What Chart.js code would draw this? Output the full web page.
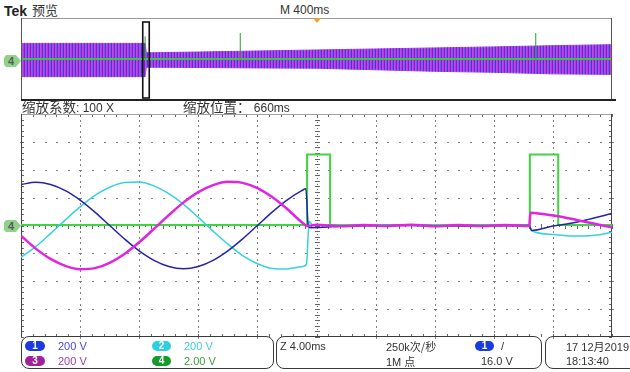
<!DOCTYPE html>
<html><head><meta charset="utf-8">
<script src="https://cdn.jsdelivr.net/npm/chart.js@4.4.1/dist/chart.umd.min.js"></script>
<style>
html,body{margin:0;padding:0;background:#fff;}
body{width:630px;height:372px;position:relative;overflow:hidden;font-family:"Liberation Sans Narrow","Liberation Sans",Arial,sans-serif;color:#333;}
.t{position:absolute;white-space:nowrap;font-size:11px;line-height:12px;}
.cjk{font-family:"Noto Sans CJK SC",sans-serif;}
.pill{position:absolute;height:10px;border-radius:5px;color:#fff;font:bold 10px/10px "Liberation Sans",Arial,sans-serif;text-align:center;}
.box{position:absolute;border:1.5px solid #3a3a3a;border-radius:8px;box-sizing:border-box;}
.marker{position:absolute;width:17px;height:12px;background:#8ed389;clip-path:polygon(0 20%,12% 0,70% 0,100% 50%,70% 100%,12% 100%,0 80%);color:#5a5a5a;font:bold 11px/12px "Liberation Sans",Arial,sans-serif;text-indent:4px;}
.trig{position:absolute;left:313px;top:18px;width:0;height:0;border-left:4px solid transparent;border-right:4px solid transparent;border-top:5px solid #f0a030;}
canvas{position:absolute;}
</style></head><body>

<div class="t" style="left:4px;top:3px;font:bold 14px/16px 'Liberation Sans',Arial,sans-serif;color:#222">Tek</div>
<div class="t cjk" style="left:32px;top:2px;font-size:13px;line-height:16px;color:#333">预览</div>
<div class="t" style="left:280px;top:3px;font-size:12px;line-height:14px;color:#333">M 400ms</div>

<canvas id="ov" width="598" height="88" style="left:18px;top:15px;width:598px;height:88px"></canvas>
<div class="trig"></div>
<div class="marker" style="left:4px;top:55px">4</div>

<div class="t" style="left:22px;top:98px;font-size:12px;line-height:16px"><span class="cjk" style="font-size:13.5px">缩放系数</span>: 100 X</div>
<div class="t" style="left:183px;top:98px;font-size:12px;line-height:16px"><span class="cjk" style="font-size:13.5px">缩放位置：</span> 660ms</div>

<canvas id="main" width="598" height="229" style="left:18px;top:111px;width:598px;height:229px"></canvas>
<div class="marker" style="left:4px;top:220px">4</div>

<div class="box" style="left:21px;top:336px;width:253px;height:33px"></div>
<div class="box" style="left:276px;top:336px;width:266px;height:33px"></div>
<div class="box" style="left:545px;top:336px;width:100px;height:33px"></div>

<div class="pill" style="left:25px;top:341px;width:20px;background:#1a3be0">1</div>
<div class="t" style="left:58px;top:340px;color:#4a4ac8">200 V</div>
<div class="pill" style="left:25px;top:356px;width:20px;background:#a0209e">3</div>
<div class="t" style="left:58px;top:355px;color:#a040a0">200 V</div>
<div class="pill" style="left:152px;top:341px;width:19px;background:#2cd0e4">2</div>
<div class="t" style="left:184px;top:340px;color:#40ccd8">200 V</div>
<div class="pill" style="left:152px;top:356px;width:19px;background:#139c2c">4</div>
<div class="t" style="left:184px;top:355px;color:#3a9c3a">2.00 V</div>

<div class="t" style="left:280px;top:340px">Z 4.00ms</div>
<div class="t" style="left:386px;top:340px">250k<span class="cjk">次/秒</span></div>
<div class="t" style="left:386px;top:355px">1M <span class="cjk">点</span></div>
<div class="pill" style="left:475px;top:341px;width:19px;background:#1a3be0">1</div>
<div class="t" style="left:501px;top:340px">/</div>
<div class="t" style="left:481px;top:355px">16.0 V</div>

<div class="t" style="left:566px;top:340px">17 12<span class="cjk">月</span>2019</div>
<div class="t" style="left:566px;top:355px">18:13:40</div>

<script>
// ---------- data (horizontal: divisions of 4 ms, vertical: divisions) ----------
const ch1Time = [0,0.25,0.5,0.75,1,1.25,1.5,1.75,2,2.25,2.5,2.75,3,3.25,3.5,3.75,4,4.25,4.5,4.75,4.82,4.86,4.9,5.5,6.5,7.5,8.6,8.64,9.0,9.3,9.6,10];
const ch1Div  = [1.47,1.55,1.47,1.25,0.91,0.48,0,-0.48,-0.91,-1.25,-1.47,-1.55,-1.47,-1.25,-0.91,-0.48,0,0.48,0.91,1.25,1.32,0.0,-0.08,-0.02,0.0,-0.02,0.0,-0.18,-0.02,0.08,0.22,0.43];

const ch2Time = [0,0.25,0.5,0.75,1,1.25,1.5,1.75,2,2.25,2.5,2.75,3,3.25,3.5,3.75,4,4.25,4.5,4.75,4.83,4.86,4.88,4.93,5.5,6.5,7.5,8.6,8.64,9.0,9.4,9.8,10];
const ch2Div  = [-1.14,-0.76,-0.29,0.20,0.67,1.08,1.37,1.54,1.56,1.42,1.14,0.76,0.29,-0.20,-0.67,-1.08,-1.37,-1.54,-1.56,-1.48,-1.40,-0.30,0.15,0.02,0,0.01,0,0,-0.18,-0.32,-0.38,-0.33,-0.24];

const ch3Time = [0,0.25,0.5,0.75,1,1.25,1.5,1.75,2,2.25,2.5,2.75,3,3.25,3.5,3.75,4,4.25,4.5,4.75,4.85,5.0,5.4,5.8,6.2,6.6,7.0,7.4,7.8,8.2,8.6,8.62,8.8,9.0,9.2,9.4,9.6,9.8,10];
const ch3Div  = [-0.37,-0.83,-1.20,-1.45,-1.57,-1.53,-1.34,-1.02,-0.60,-0.12,0.37,0.83,1.20,1.45,1.57,1.53,1.34,1.02,0.60,0.12,-0.02,0.03,-0.03,0.02,-0.02,0.03,-0.03,0.02,-0.02,0.02,-0.02,0.46,0.42,0.36,0.29,0.20,0.11,0.02,-0.06];

const ch4Time = [0,4.84,4.84,5.23,5.23,8.61,8.61,9.09,9.09,10];
const ch4Div  = [0.02,0.02,2.55,2.55,0.02,0.02,2.55,2.55,0.02,0.02];

// overview record (400 ms/div)
const ovTime  = [0,2.1,2.12,3,4,5,6,7,8,9,10];
const ovUpper = [1.52,1.52,0.6,0.68,0.78,0.88,0.98,1.08,1.18,1.3,1.4];
const ovLower = [-1.72,-1.72,-0.8,-0.83,-0.87,-0.9,-1.05,-1.2,-1.3,-1.45,-1.5];
const ovGroundTime = [0,10];
const ovGround = [0,0];
const ovSpikeTime = [2.1,3.71,8.71];
const ovSpikeTop  = [2.2,2.54,2.54];
const zoomWindow = [2.06,2.17];

const xDivs = 10, yDivs = 8;

const pts = (t, v) => t.map((x, i) => ({x, y: v[i]}));

// ---------- overview ----------
const ovCanvas = document.getElementById('ov');
const pc = document.createElement('canvas'); pc.width = 3; pc.height = 1;
const pctx = pc.getContext('2d');
['#4a36d6','#da3ce4','#9448e6'].forEach((c,i)=>{pctx.fillStyle=c;pctx.fillRect(i,0,1,1);});
const bandPattern = ovCanvas.getContext('2d').createPattern(pc,'repeat');

const ovFrame = {
  id:'ovFrame',
  afterDatasetsDraw(chart){
    const {ctx, chartArea:a, scales:{x,y}} = chart;
    ctx.save();
    ctx.strokeStyle = '#999'; ctx.lineWidth = 1;
    ctx.beginPath(); ctx.moveTo(a.left, a.top+0.5); ctx.lineTo(a.right, a.top+0.5); ctx.stroke();
    ctx.strokeStyle = '#555';
    ctx.beginPath(); ctx.moveTo(a.left+0.5, a.top); ctx.lineTo(a.left+0.5, a.bottom);
    ctx.moveTo(a.right-0.5, a.top); ctx.lineTo(a.right-0.5, a.bottom); ctx.stroke();
    ctx.strokeStyle = '#222'; ctx.lineWidth = 2;
    ctx.beginPath(); ctx.moveTo(a.left, a.bottom); ctx.lineTo(a.right+4, a.bottom); ctx.stroke();
    const x0 = x.getPixelForValue(zoomWindow[0]), x1 = x.getPixelForValue(zoomWindow[1]);
    ctx.strokeStyle = '#111'; ctx.lineWidth = 1.6;
    ctx.strokeRect(x0, a.top+4, x1-x0, a.bottom-a.top-6);
    ctx.restore();
  }
};

new Chart(ovCanvas, {
  type:'line',
  data:{datasets:[
    {data:pts(ovTime,ovUpper), borderColor:bandPattern, backgroundColor:bandPattern, borderWidth:1, fill:'+1', order:3},
    {data:pts(ovTime,ovLower), borderColor:bandPattern, borderWidth:1, fill:false, order:3},
    {data:pts(ovGroundTime,ovGround), borderColor:'#3cc24a', borderWidth:2, fill:false, order:2},
    {data:ovSpikeTime.flatMap((t,i)=>[{x:t,y:0},{x:t,y:ovSpikeTop[i]},{x:t,y:null}]), borderColor:'#2f9a33', borderWidth:1, fill:false, spanGaps:false, order:1}
  ]},
  options:{
    responsive:false, animation:false, devicePixelRatio:1,
    layout:{padding:{left:3,right:4,top:3,bottom:3}},
    plugins:{legend:{display:false}, tooltip:{enabled:false}},
    elements:{point:{radius:0}, line:{tension:0}},
    scales:{x:{type:'linear',min:0,max:xDivs,display:false}, y:{min:-yDivs/2,max:yDivs/2,display:false}}
  },
  plugins:[ovFrame]
});

// ---------- main zoomed view ----------
const scopeGrid = {
  id:'scopeGrid',
  beforeDatasetsDraw(chart){
    const {ctx, chartArea:a, scales:{x,y}} = chart;
    ctx.save();
    ctx.fillStyle = '#808080';
    for (let i = 1; i < xDivs; i++) {
      if (i === xDivs/2) continue;
      const px = Math.round(x.getPixelForValue(i));
      for (let j = 0; j <= yDivs*5; j++) {
        const py = Math.round(y.getPixelForValue(-yDivs/2 + j*0.2));
        ctx.fillRect(px, py, 1, 2);
      }
    }
    for (let i = -yDivs/2+1; i < yDivs/2; i++) {
      if (i === 0) continue;
      const py = Math.round(y.getPixelForValue(i));
      for (let j = 0; j <= xDivs*5; j++) {
        const px = Math.round(x.getPixelForValue(j*0.2));
        ctx.fillRect(px, py, 2, 1);
        if (j % 5 === 0) ctx.fillRect(px-1, py, 3, 1);
      }
    }
    ctx.fillStyle = '#666';
    const cx = Math.round(x.getPixelForValue(xDivs/2)), cy = Math.round(y.getPixelForValue(0));
    for (let j = 0; j <= yDivs*10; j++) {
      const py = Math.round(y.getPixelForValue(-yDivs/2 + j*0.1));
      ctx.fillRect(cx, py, 1, 1);
      if (j % 2 === 0) ctx.fillRect(cx-2, py, 5, 1);
    }
    for (let j = 0; j <= xDivs*10; j++) {
      const px = Math.round(x.getPixelForValue(j*0.1));
      ctx.fillRect(px, cy, 1, 1);
      if (j % 2 === 0) ctx.fillRect(px, cy-2, 1, 5);
    }
    for (let j = 0; j <= yDivs*5; j++) {
      const py = Math.round(y.getPixelForValue(-yDivs/2 + j*0.2));
      ctx.fillRect(a.left, py, 3, 1);
      ctx.fillRect(a.right-3, py, 3, 1);
    }
    for (let j = 0; j <= xDivs*5; j++) {
      const px = Math.round(x.getPixelForValue(j*0.2));
      ctx.fillRect(px, a.top, 1, 3);
      ctx.fillRect(px, a.bottom-3, 1, 3);
    }
    ctx.strokeStyle = '#a0a0a0'; ctx.lineWidth = 1;
    ctx.beginPath(); ctx.moveTo(a.left, a.top+0.5); ctx.lineTo(a.right, a.top+0.5); ctx.stroke();
    ctx.strokeStyle = '#444';
    ctx.beginPath(); ctx.moveTo(a.left+0.5, a.top); ctx.lineTo(a.left+0.5, a.bottom);
    ctx.moveTo(a.right-0.5, a.top); ctx.lineTo(a.right-0.5, a.bottom); ctx.stroke();
    ctx.restore();
  }
};

new Chart(document.getElementById('main'), {
  type:'line',
  data:{datasets:[
    {label:'CH3', data:pts(ch3Time,ch3Div), borderColor:'#e024e0', borderWidth:2.5, cubicInterpolationMode:'monotone', order:1},
    {label:'CH1', data:pts(ch1Time,ch1Div), borderColor:'#2424a6', borderWidth:1.5, cubicInterpolationMode:'monotone', order:2},
    {label:'CH2', data:pts(ch2Time,ch2Div), borderColor:'#36d2dc', borderWidth:1.5, cubicInterpolationMode:'monotone', order:3},
    {label:'CH4', data:pts(ch4Time,ch4Div), borderColor:'#3ed63f', borderWidth:2, tension:0, order:4}
  ]},
  options:{
    responsive:false, animation:false, devicePixelRatio:1,
    layout:{padding:{left:3,right:4,top:3,bottom:3}},
    plugins:{legend:{display:false}, tooltip:{enabled:false}},
    elements:{point:{radius:0}},
    scales:{x:{type:'linear',min:0,max:xDivs,display:false}, y:{min:-yDivs/2,max:yDivs/2,display:false}}
  },
  plugins:[scopeGrid]
});
</script>
</body></html>
